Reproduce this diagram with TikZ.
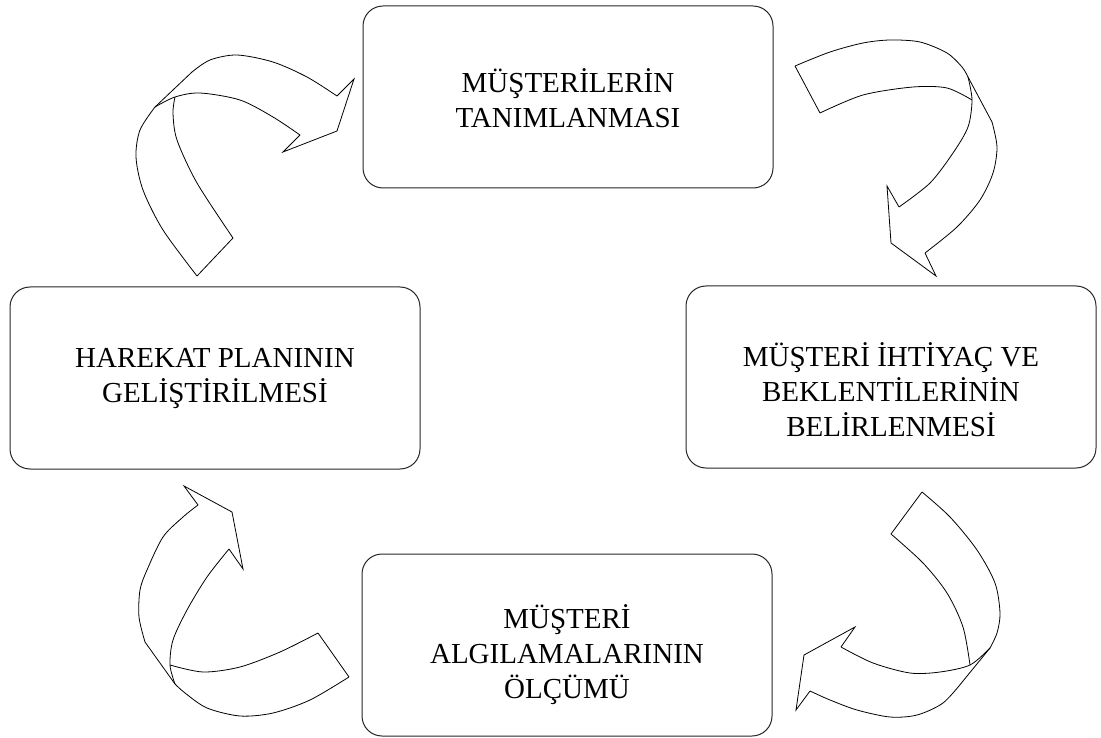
\documentclass[tikz,border=0pt]{standalone}
\usepackage{fontspec}
\setmainfont{Liberation Serif}
\usepackage{tikz}
\usetikzlibrary{positioning}

\begin{document}
\begin{tikzpicture}[x=1pt, y=-1pt,
    every node/.style={font=\fontsize{29}{35}\selectfont},
    stage/.style={draw=black!85, line width=1pt, rounded corners=20pt,
        minimum width=410pt, minimum height=182pt, inner sep=0pt},
    caption/.style={align=center, inner sep=0pt},
    band/.style={draw=black, line width=0.8pt, line join=miter}]
    \useasboundingbox (0,0) rectangle (1101,738);

    % The four stages of the cycle
    \node[stage] (tanim) at (568,97) {};
    \node[stage] (beklenti) at (891,377) {};
    \node[stage] (olcum) at (567,645) {};
    \node[stage] (plan) at (215,378) {};

    % Their texts (three-line ones sit a bit low)
    \node[caption] (tanim-txt) at ([yshift=-1pt]tanim.center) {MÜŞTERİLERİN\\TANIMLANMASI};
    \node[caption] (beklenti-txt) at ([yshift=-13pt]beklenti.center) {MÜŞTERİ İHTİYAÇ VE\\BEKLENTİLERİNİN\\BELİRLENMESİ};
    \node[caption] (olcum-txt) at ([yshift=-10pt]olcum.center) {MÜŞTERİ\\ALGILAMALARININ\\ÖLÇÜMÜ};
    \node[caption] (plan-txt) at ([yshift=-1pt]plan.center) {HAREKAT PLANININ\\GELİŞTİRİLMESİ};

    % Curved block arrow: plan -> tanim
    \draw[band] (197,276) -- (233,238);
    \draw[band] plot[smooth] coordinates {(197,276) (163,230) (143,190) (136,157) (140,130) (155,107)};
    \draw[band] plot[smooth] coordinates {(233,238) (197,183) (177,140) (173,113) (175,97)};
    \draw[band] plot[smooth] coordinates {(155,107) (175,97) (200,93) (240,100) (273,117) (300,135)};
    \draw[band] (155,107) -- (192,72);
    \draw[band] plot[smooth] coordinates {(192,72) (210,60) (237,55) (273,62) (307,77) (337,96)};
    \draw[band] (337,96) -- (354,79) -- (337,131) -- (283,152) -- (300,135);

    % Curved block arrow: tanim -> beklenti
    \draw[band] (795,66) -- (820,113);
    \draw[band] plot[smooth] coordinates {(795,66) (830,52) (863,43) (890,40) (920,42) (947,53) (962,67) (968,77)};
    \draw[band] (968,77) -- (992,122);
    \draw[band] plot[smooth] coordinates {(992,122) (997,147) (993,173) (980,200) (957,227) (925,253)};
    \draw[band] (925,253) -- (936,276) -- (891,243) -- (887,186) -- (899,207);
    \draw[band] plot[smooth] coordinates {(899,207) (930,183) (953,153) (968,127) (972,100) (968,77)};
    \draw[band] plot[smooth] coordinates {(820,113) (863,95) (913,87) (947,88) (972,100)};

    % Curved block arrow: beklenti -> olcum
    \draw[band] (922,492) -- (891,534);
    \draw[band] plot[smooth] coordinates {(922,492) (950,517) (977,550) (995,583) (1000,613) (997,633) (990,648)};
    \draw[band] plot[smooth] coordinates {(891,534) (923,563) (947,593) (963,627) (970,665)};
    \draw[band] plot[smooth] coordinates {(990,648) (970,665) (940,672) (910,673) (873,663) (841,647)};
    \draw[band] (990,648) -- (963,681);
    \draw[band] plot[smooth] coordinates {(963,681) (943,703) (917,715) (890,717) (857,710) (830,700) (810,691)};
    \draw[band] (841,647) -- (855,627) -- (804,655) -- (796,710) -- (810,691);

    % Curved block arrow: olcum -> plan
    \draw[band] (318,633) -- (349,677);
    \draw[band] plot[smooth] coordinates {(318,633) (280,652) (240,667) (203,672) (170,665)};
    \draw[band] plot[smooth] coordinates {(349,677) (310,700) (273,713) (240,716) (207,708) (185,693) (175,684)};
    \draw[band] (175,684) -- (145,642);
    \draw[band] plot[smooth] coordinates {(145,642) (139,617) (140,590) (147,570) (163,537) (183,517) (198,505)};
    \draw[band] (198,505) -- (184,486) -- (232,512) -- (243,569) -- (229,549);
    \draw[band] plot[smooth] coordinates {(229,549) (207,577) (187,610) (173,640) (170,665) (175,684)};
\end{tikzpicture}
\end{document}
